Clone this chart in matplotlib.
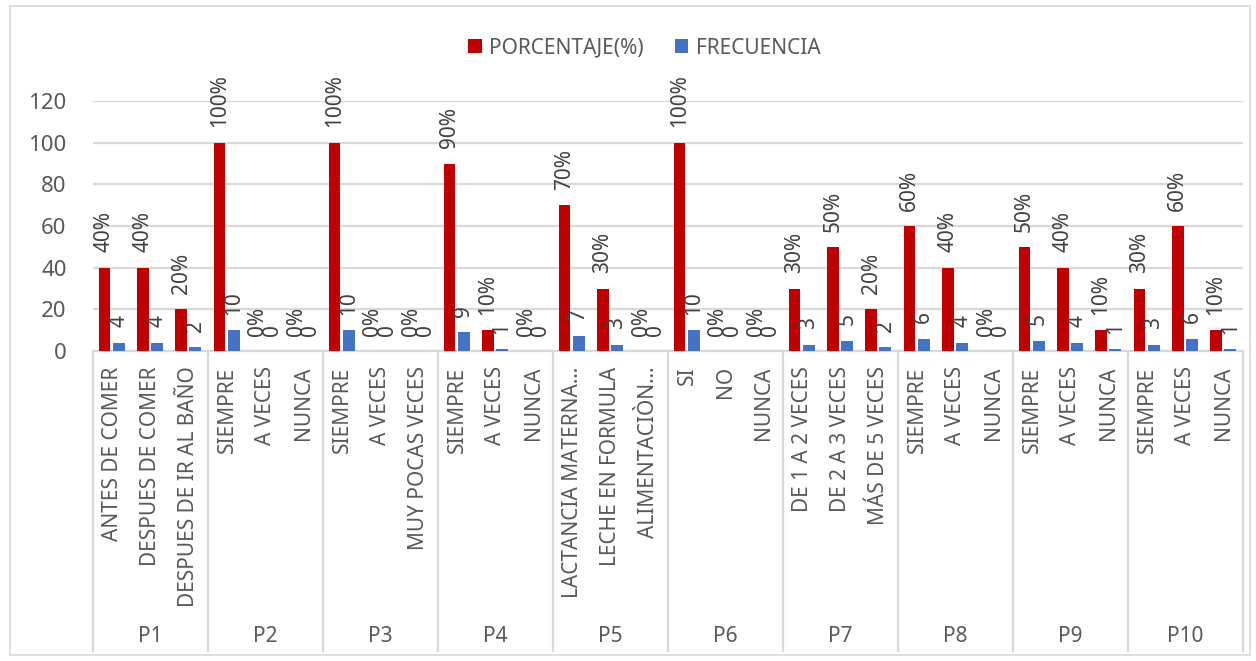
import matplotlib.pyplot as plt
import matplotlib.transforms as mtransforms
from matplotlib.patches import Rectangle

plt.rcParams['font.family'] = ['Noto Sans', 'DejaVu Sans']

grupos = ["P1", "P2", "P3", "P4", "P5", "P6", "P7", "P8", "P9", "P10"]
categorias = [
    "ANTES DE COMER", "DESPUES DE COMER", "DESPUES DE IR AL BAÑO",
    "SIEMPRE", "A VECES", "NUNCA",
    "SIEMPRE", "A VECES", "MUY POCAS VECES",
    "SIEMPRE", "A VECES", "NUNCA",
    "LACTANCIA MATERNA…", "LECHE EN FORMULA", "ALIMENTACIÒN…",
    "SI", "NO", "NUNCA",
    "DE 1 A 2 VECES", "DE 2 A 3 VECES", "MÁS DE 5 VECES",
    "SIEMPRE", "A VECES", "NUNCA",
    "SIEMPRE", "A VECES", "NUNCA",
    "SIEMPRE", "A VECES", "NUNCA",
]
porcentaje = [40, 40, 20, 100, 0, 0, 100, 0, 0, 90, 10, 0, 70, 30, 0,
              100, 0, 0, 30, 50, 20, 60, 40, 0, 50, 40, 10, 30, 60, 10]
frecuencia = [4, 4, 2, 10, 0, 0, 10, 0, 0, 9, 1, 0, 7, 3, 0,
              10, 0, 0, 3, 5, 2, 6, 4, 0, 5, 4, 1, 3, 6, 1]

ROJO = "#c00000"
AZUL = "#4472c4"
GRIS = "#595959"
LINEA = "#d9d9d9"

fig = plt.figure(figsize=(12.56, 6.61), dpi=100)
ax = fig.add_axes([93 / 1256, 1 - 351 / 661, (1243 - 93) / 1256, 250 / 661])

x = list(range(len(categorias)))
w = 0.31
b1 = ax.bar([i - 0.2 for i in x], porcentaje, w, color=ROJO, label="PORCENTAJE(%)", zorder=3)
b2 = ax.bar([i + 0.17 for i in x], frecuencia, w, color=AZUL, label="FRECUENCIA", zorder=3)

# etiquetas de datos (los ceros se solapan igual que en el original)
for rect, v in zip(b1, porcentaje):
    ax.annotate(f"{v}%", (rect.get_x() + rect.get_width() / 2, v),
                xytext=(0, 11), textcoords="offset points", rotation=90,
                ha="center", va="bottom", fontsize=15, color="#404040")
for rect, v in zip(b2, frecuencia):
    ax.annotate(f"{v}", (rect.get_x() + rect.get_width() / 2, v),
                xytext=(0, 11), textcoords="offset points", rotation=90,
                ha="center", va="bottom", fontsize=15, color="#404040")

ax.set_xlim(-0.5, len(categorias) - 0.5)
ax.set_ylim(0, 120)
ax.set_yticks(range(0, 121, 20))
ax.tick_params(axis="y", length=0, labelsize=16, labelcolor=GRIS, pad=19)
ax.set_xticks(x)
ax.set_xticklabels(categorias, rotation=90, fontsize=15, color=GRIS, va="top")
ax.tick_params(axis="x", length=0, pad=11)
ax.yaxis.grid(True, color=LINEA, lw=1.6, zorder=0)
for s in ["top", "right", "left"]:
    ax.spines[s].set_visible(False)
ax.spines["bottom"].set_color(LINEA)
ax.spines["bottom"].set_linewidth(1.6)

trans = mtransforms.blended_transform_factory(ax.transData, ax.transAxes)
for k, g in enumerate(grupos):
    sep = k * 3 - 0.5
    ax.plot([sep, sep], [0, -1.2], transform=trans, color=LINEA, lw=1.6, clip_on=False)
    ax.text(k * 3 + 1, -1.144, g, transform=trans, ha="center", va="center",
            fontsize=15, color=GRIS)
ax.plot([len(categorias) - 0.5] * 2, [0, -1.2], transform=trans, color=LINEA, lw=1.6, clip_on=False)

fig.legend(loc="center", bbox_to_anchor=(0.513, 1 - 48 / 661), ncol=2, frameon=False,
           fontsize=15, labelcolor=GRIS, handlelength=0.65, handleheight=0.65,
           columnspacing=1.5, handletextpad=0.35)

fig.patches.append(Rectangle((10 / 1256, 6 / 661), 1240 / 1256, 649 / 661,
                             transform=fig.transFigure, fill=False,
                             edgecolor=LINEA, lw=1.2))

fig.savefig("out.png", dpi=100)
